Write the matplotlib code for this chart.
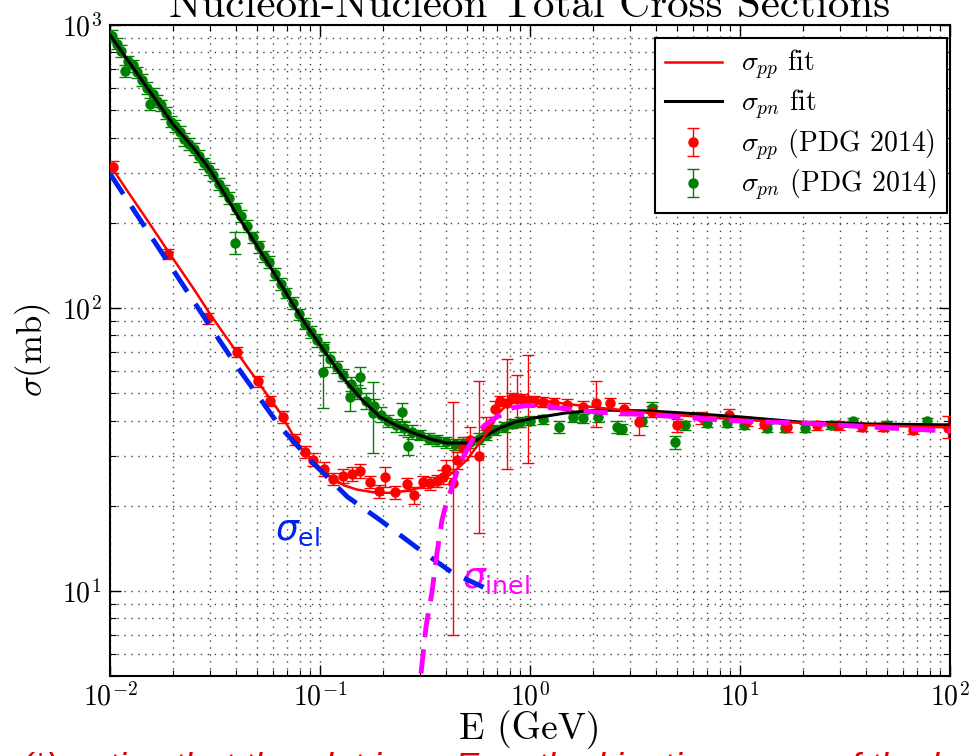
import matplotlib
matplotlib.use("Agg")
import matplotlib.pyplot as plt
import numpy as np

plt.rcParams['font.family'] = 'cmr10'
plt.rcParams['mathtext.fontset'] = 'cm'
plt.rcParams['axes.formatter.use_mathtext'] = True

# --- PDG 2014 data points ---
pn_E = [0.0102, 0.0108, 0.0113, 0.0118, 0.0122, 0.0128, 0.0135, 0.0142, 0.0150, 0.0155,
        0.0160, 0.0168, 0.0175, 0.0185, 0.0195, 0.0205, 0.0215, 0.0225, 0.0238, 0.0250,
        0.0265, 0.0280, 0.0295, 0.0310, 0.0330, 0.0350, 0.0370, 0.0394, 0.0400, 0.0420,
        0.0450, 0.0480, 0.0510, 0.0540, 0.0570, 0.0610, 0.0650, 0.0690, 0.0740, 0.0790,
        0.0850, 0.0910, 0.0970, 0.103, 0.105, 0.112, 0.120, 0.128, 0.139, 0.140,
        0.150, 0.155, 0.165, 0.179, 0.180, 0.195, 0.210, 0.230, 0.246, 0.250,
        0.262, 0.275, 0.300, 0.330, 0.360, 0.400, 0.440, 0.480, 0.52, 0.57,
        0.62, 0.68, 0.75, 0.82, 0.90, 1.0, 1.15, 1.38, 1.6, 1.79,
        2.1, 2.6, 2.74, 3.4, 3.8, 4.9, 5.5, 7.0, 8.7, 10.5,
        13.5, 16.4, 20.4, 27, 34.6, 50, 77.6]
pn_sig = [915, 860, 810, 690, 745, 720, 680, 640, 600, 525,
          570, 540, 520, 490, 455, 440, 420, 395, 380, 365,
          345, 325, 310, 295, 275, 260, 245, 170, 225, 212,
          195, 178, 165, 152, 145, 132, 122, 113, 104, 95,
          88, 82, 77, 59.4, 72, 66, 62, 58, 48.6, 54,
          50.5, 57, 47, 42.6, 45, 42, 40, 38.5, 43, 37.5,
          32.6, 36.5, 35.5, 34.5, 34, 33.5, 33, 33, 33.5, 34.5,
          35.5, 37, 38, 39, 39.5, 40, 40.5, 38, 41, 40.8,
          41, 38, 37.4, 39.7, 44.4, 33.6, 38.5, 39.3, 39.3, 38.5,
          37.6, 37.6, 37.6, 38.5, 39.7, 38.5, 39.7]
pn_err = [45, 40, 40, 35, 35, 35, 30, 30, 30, 25,
          30, 25, 25, 25, 20, 20, 20, 20, 18, 18,
          16, 15, 15, 14, 13, 12, 12, 15, 10, 10,
          9, 8, 8, 7, 7, 6, 6, 5, 5, 4,
          4, 4, 4, 15, 4, 4, 3, 3, 5.5, 3,
          3, 5, 3, 12, 2.5, 2.5, 2, 2, 3, 2,
          2.5, 2, 1.5, 1.5, 1.5, 1.5, 1.5, 1.5, 1.5, 1.5,
          1.5, 1.5, 1.5, 1.5, 1.5, 1.5, 1.5, 2, 1.5, 1.5,
          1.5, 2, 1.5, 1.5, 2, 1.8, 1.5, 1.5, 1.5, 1.2,
          1.2, 1.2, 1.2, 1.2, 1.2, 1.2, 1.2]

pp_E = [0.0103, 0.0189, 0.0293, 0.0403, 0.0505, 0.0580, 0.0665, 0.076, 0.085, 0.093,
        0.105, 0.115, 0.128, 0.142, 0.155, 0.173, 0.19, 0.204, 0.228, 0.259,
        0.28, 0.309, 0.334, 0.36, 0.384, 0.40, 0.43, 0.45, 0.48, 0.52,
        0.57, 0.62, 0.68, 0.72, 0.78, 0.82, 0.87, 0.92, 0.98, 1.05,
        1.15, 1.3, 1.5, 1.79, 2.07, 2.4, 2.8, 3.3, 3.8, 5.0,
        6.5, 8.9, 10.8, 13, 16.7, 23.3, 29.6, 38, 47.8, 66.6, 97.8]
pp_sig = [315, 155, 92, 70, 55, 47, 41.2, 34.2, 31, 29.1,
          27, 24.8, 25.5, 25.9, 26.5, 24.3, 22.5, 25.3, 22.3, 23.8,
          21.8, 24.3, 24.0, 24.5, 25.3, 27, 24, 29, 32, 34,
          30, 38, 44, 47, 46, 48, 48, 47.5, 47.3, 47,
          46.5, 46, 45.5, 44.7, 46, 46, 44, 39.5, 43, 38.5,
          41, 41.9, 39.7, 39, 38.0, 38.5, 38.5, 38, 38.0, 37.1, 37.6]
pp_err_lo = [15, 6, 4, 3, 2.5, 2, 2, 1.5, 1.5, 1.5,
             1.5, 1.2, 1.5, 1.5, 1.5, 1.2, 1.2, 2.0, 1.2, 1.2,
             1.5, 1.2, 1.2, 1.2, 1.5, 2, 17, 2, 3, 4,
             14, 3, 3, 2, 19, 2, 10, 2, 19, 2,
             2, 2, 2, 2, 8, 2, 2, 4, 2, 2,
             2, 2, 1.5, 1.5, 1.5, 1.5, 1.5, 1.2, 1.2, 1.2, 3]
pp_err_hi = [15, 6, 4, 3, 2.5, 2, 2, 1.5, 1.5, 1.5,
             1.5, 1.2, 1.5, 1.5, 1.5, 1.2, 1.2, 2.0, 1.2, 1.2,
             1.5, 1.2, 1.2, 1.2, 1.5, 2, 22.5, 2, 3, 4,
             25, 3, 3, 2, 20, 2, 10, 2, 21, 2,
             2, 2, 2, 2, 9, 2, 2, 4, 2, 2,
             2, 2, 1.5, 1.5, 1.5, 1.5, 1.5, 1.2, 1.2, 1.2, 4]

# --- fit curves ---
pp_fit_E = [0.01, 0.0125, 0.015, 0.02, 0.025, 0.03, 0.035, 0.04, 0.05, 0.0646,
            0.08, 0.1, 0.112, 0.13, 0.15, 0.18, 0.215, 0.26, 0.309, 0.36,
            0.403, 0.45, 0.5, 0.56, 0.624, 0.72, 0.8, 0.9, 1.0, 1.2,
            1.5, 2.0, 3.0, 5.0, 10, 20, 50, 100]
pp_fit = [320, 250, 205, 149, 117, 95, 80.6, 70, 55.5, 42.6,
          32.3, 27.2, 25.3, 23.6, 22.8, 22.3, 22.2, 22.6, 23.3, 24.2,
          25.3, 27, 29, 32.5, 36.2, 43, 46.5, 47.5, 47.5, 46.8,
          45.8, 44.6, 43.2, 41.8, 40.3, 39.2, 38.3, 37.8]

pn_fit_E = [0.01, 0.015, 0.02, 0.0254, 0.03, 0.04, 0.05, 0.06, 0.072, 0.085,
            0.1, 0.12, 0.135, 0.16, 0.193, 0.23, 0.277, 0.34, 0.403, 0.5,
            0.56, 0.624, 0.72, 0.85, 1.04, 1.5, 2.15, 3.73, 6, 10,
            19.3, 40, 100]
pn_fit = [922, 602, 445, 362, 307, 215, 166, 134, 107, 88,
          74, 61, 54.3, 47, 41.2, 38.5, 36.2, 34.3, 33.3, 33.3,
          34.2, 35.5, 37.7, 39.5, 40.8, 42.6, 43.6, 43.2, 42.3, 41.2,
          39.5, 38.9, 38.6]

el_E = [0.01, 0.02, 0.03, 0.0403, 0.0646, 0.0927, 0.135, 0.193, 0.29, 0.426, 0.6]
el_sig = [298, 136, 86, 62, 38, 28.3, 21.5, 17.8, 14.2, 11.6, 10.3]

inel_E = [0.29, 0.32, 0.341, 0.36, 0.381, 0.40, 0.426, 0.45, 0.48, 0.52,
          0.56, 0.61, 0.66, 0.74, 0.83, 0.96, 1.1, 1.25, 1.5, 1.79,
          2.6, 3.73, 6, 10, 20, 40, 100]
inel_sig = [3.8, 7.5, 9.84, 13.5, 17.8, 20.5, 23.3, 26.5, 29.7, 33.2,
            36.2, 38.5, 40.2, 42.5, 44.4, 45.2, 45.1, 44.7, 44.0, 43.2,
            42.4, 41.9, 40.8, 39.8, 39.2, 38.0, 36.7]

fig = plt.figure(figsize=(9.71, 7.56), dpi=100)
ax = fig.add_axes([0.1133, 0.1058, 0.8651, 0.8611])

ax.set_xscale('log')
ax.set_yscale('log')
ax.set_xlim(1e-2, 1e2)
ax.set_ylim(5, 1000)

ax.grid(which='both', color='#444444', linestyle=(0, (1, 4)), linewidth=1.0)

h_pn = ax.errorbar(pn_E, pn_sig, yerr=pn_err, fmt='o', color='green', ms=6.5,
                   elinewidth=1, capsize=4, zorder=3)
h_pp = ax.errorbar(pp_E, pp_sig, yerr=[pp_err_lo, pp_err_hi], fmt='o', color='red', ms=6.5,
                   elinewidth=1, capsize=4, zorder=3)
h_pnfit, = ax.plot(pn_fit_E, pn_fit, color='black', lw=2.2, zorder=4)
h_ppfit, = ax.plot(pp_fit_E, pp_fit, color='red', lw=1.8, zorder=4)
ax.plot(el_E, el_sig, color='#0022ee', lw=3.5, dashes=(5, 3), zorder=5)
ax.plot(inel_E, inel_sig, color='#ff00ff', lw=3.5, dashes=(5, 2.5), zorder=5)

ax.text(0.061, 15.1, r'$\sigma_{\rm el}$', color='#0022ee', fontsize=26,
        math_fontfamily='dejavusans', ha='left', va='baseline')
ax.text(0.475, 10.2, r'$\sigma_{\rm inel}$', color='#ff00ff', fontsize=26,
        math_fontfamily='dejavusans', ha='left', va='baseline')

ax.tick_params(which='both', direction='in', top=True, right=True, labelsize=20)
ax.tick_params(which='major', length=8, width=1)
ax.tick_params(which='minor', length=4, width=0.8)
ax.tick_params(axis='x', pad=5)
ax.tick_params(axis='y', pad=6)
for s in ax.spines.values():
    s.set_linewidth(1.5)

ax.set_xlabel('E (GeV)', fontsize=27, labelpad=-1)
ax.set_ylabel(r'$\sigma$(mb)', fontsize=25, labelpad=6)
ax.text(0.5, 1.012, 'Nucleon-Nucleon Total Cross Sections', transform=ax.transAxes,
        ha='center', va='baseline', fontsize=31)

leg = ax.legend([h_ppfit, h_pnfit, h_pp, h_pn],
                [r'$\sigma_{pp}$ fit', r'$\sigma_{pn}$ fit',
                 r'$\sigma_{pp}$ (PDG 2014)', r'$\sigma_{pn}$ (PDG 2014)'],
                loc='upper right', bbox_to_anchor=(0.9964, 0.980), borderaxespad=0,
                fontsize=20, fancybox=False, edgecolor='black', framealpha=1,
                handlelength=2.05, labelspacing=0.2, borderpad=0.35, handletextpad=0.7)
leg.get_frame().set_linewidth(1.5)

fig.text(0.02, -0.031, '(*) notice that the plot is vs E$_{\\rm lab}$, the kinetic energy of the beam',
         color='#dd0000', fontsize=26, style='italic', family='Liberation Sans',
         ha='left', va='baseline')

fig.savefig('out.png', dpi=100)
